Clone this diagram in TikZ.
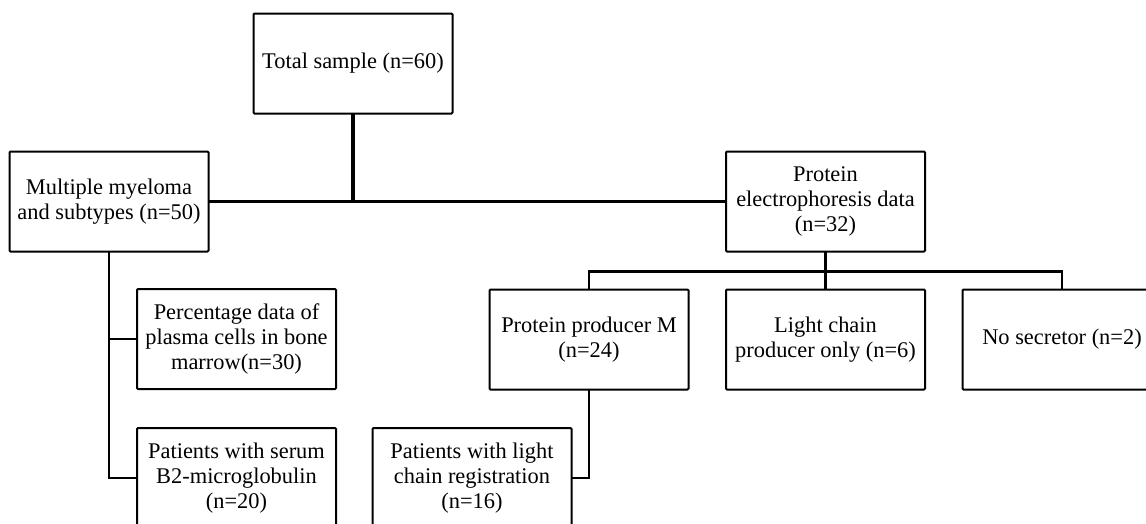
\documentclass[tikz,border=0pt]{standalone}
\usepackage{fontspec}
\setmainfont{Liberation Serif}
\begin{document}
\begin{tikzpicture}[x=1pt,y=-1pt,
  box/.style={draw, line width=2pt, rounded corners=1pt, minimum width=199pt, minimum height=100pt,
    align=center, inner sep=1pt, outer sep=0pt, font=\fontsize{22.4}{25}\selectfont},
  conn/.style={line width=2.2pt},
  thickconn/.style={line width=3.8pt}]
\clip (0,0) rectangle (1146,523);
\fill[white] (0,0) rectangle (1146,523);
\node[box] (total) at (353,63.5) {Total sample (n=60)};
\node[box] (mm) at (109,201.5) {Multiple myeloma\\and subtypes (n=50)};
\node[box] (pe) at (825.5,201.5) {Protein\\electrophoresis data\\(n=32)};
\node[box] (pct) at (236.5,339) {Percentage data of\\plasma cells in bone\\marrow(n=30)};
\node[box] (ppm) at (589,339.5) {Protein producer M\\(n=24)};
\node[box] (lc) at (825.5,339.5) {Light chain\\producer only (n=6)};
\node[box] (ns) at (1062,339.5) {No secretor (n=2)};
\node[box] (serum) at (236.5,478) {Patients with serum\\B2-microglobulin\\(n=20)};
\node[box] (lcr) at (472,478) {Patients with light\\chain registration\\(n=16)};
\draw[thickconn] (total.south) -- (total.south |- mm.east);
\draw[conn] (mm.east) -- (pe.west);
\draw[conn] (mm.south) |- (serum.west);
\draw[conn] (mm.south |- pct.west) -- (pct.west);
\draw[thickconn] (pe.south) -- ++(0,20) coordinate (pej);
\draw[conn] (pej) -- (lc.north);
\draw[conn] (ppm.north) |- (pej) -| (ns.north);
\draw[conn] (ppm.south) |- (lcr.east);
\end{tikzpicture}
\end{document}
